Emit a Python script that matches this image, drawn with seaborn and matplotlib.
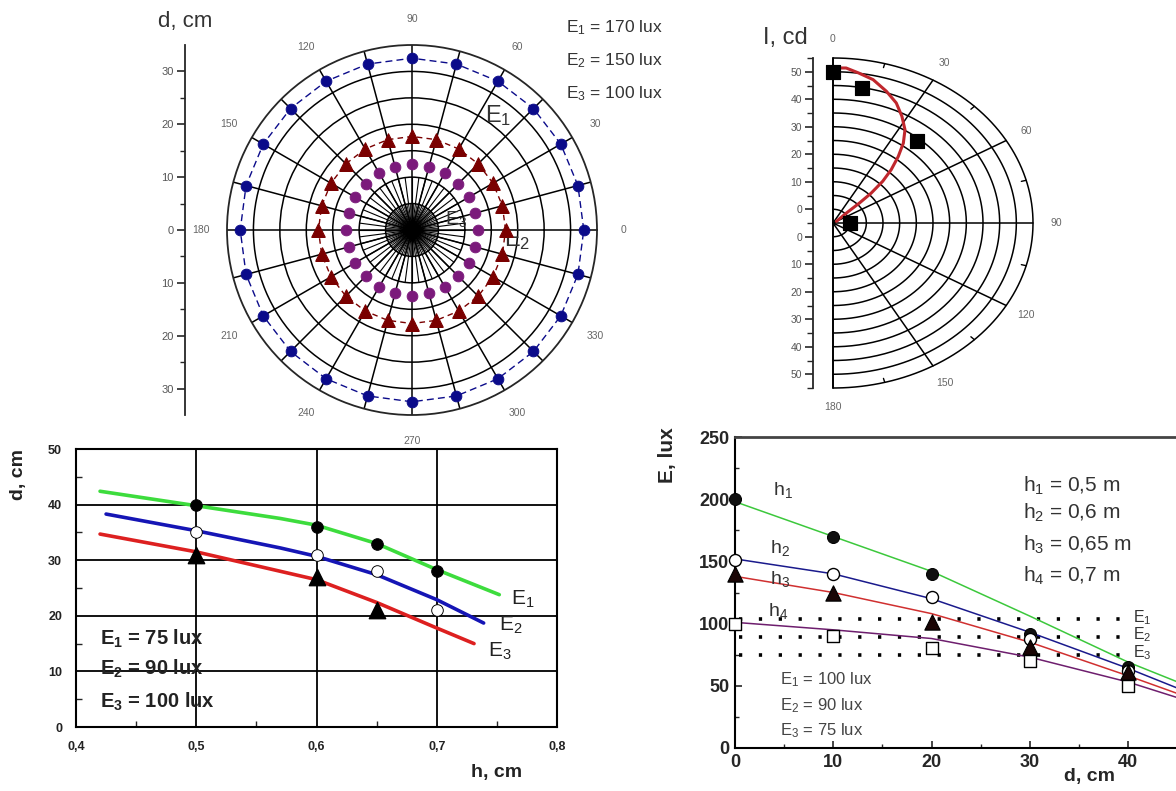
import numpy as np
import matplotlib
matplotlib.use("Agg")
import matplotlib.pyplot as plt
import seaborn as sns

# ── Datos ──────────────────────────────────────────────────────────
# polar superior izquierdo: d (cm) frente al ángulo (grados)
ang_deg = [0, 15, 30, 45, 60, 75, 90, 105, 120, 135, 150, 165,
           180, 195, 210, 225, 240, 255, 270, 285, 300, 315, 330, 345]
d_E1 = [32.5, 32.5, 32.5, 32.5, 32.5, 32.5, 32.5, 32.5, 32.5, 32.5, 32.5, 32.5,
        32.5, 32.5, 32.5, 32.5, 32.5, 32.5, 32.5, 32.5, 32.5, 32.5, 32.5, 32.5]
d_E2 = [17.7, 17.7, 17.7, 17.7, 17.7, 17.7, 17.7, 17.7, 17.7, 17.7, 17.7, 17.7,
        17.7, 17.7, 17.7, 17.7, 17.7, 17.7, 17.7, 17.7, 17.7, 17.7, 17.7, 17.7]
d_E3 = [12.4, 12.4, 12.4, 12.4, 12.4, 12.4, 12.4, 12.4, 12.4, 12.4, 12.4, 12.4,
        12.4, 12.4, 12.4, 12.4, 12.4, 12.4, 12.4, 12.4, 12.4, 12.4, 12.4, 12.4]
polar_ang_labels = [0, 30, 60, 90, 120, 150, 180, 210, 240, 270, 300, 330]
d_axis_ticks = [-30, -20, -10, 0, 10, 20, 30]
legend_top = ["E$_1$ = 170 lux", "E$_2$ = 150 lux", "E$_3$ = 100 lux"]

# semipolar superior derecho: I (cd) frente al ángulo
I_ang = [0, 10, 40, 90]
I_cd = [50, 45, 34, 0]
curve_ang = [0.5, 4, 8, 13, 18.5, 23.5, 28, 32.5, 36, 39, 42, 44.5, 46.5, 47.5, 48, 59]
curve_I = [51.4, 51.5, 50.1, 48.5, 45.5, 42.6, 39.0, 35.2, 30.9, 26.1, 21.1,
           16.3, 10.8, 5.8, 0.4, -3.8]
I_R0 = 5            # el centro del diagrama no es cero
I_rmax = 55
I_ticks = [0, 10, 20, 30, 40, 50]
I_ang_labels = [0, 30, 60, 90, 120, 150, 180]

# inferior izquierdo: d (cm) frente a h
h_line_E1 = [0.42, 0.50, 0.57, 0.60, 0.65, 0.70, 0.752]
d_line_E1 = [42.4, 39.8, 37.5, 36.3, 33.0, 28.3, 23.8]
h_line_E2 = [0.425, 0.50, 0.57, 0.60, 0.65, 0.70, 0.739]
d_line_E2 = [38.3, 35.3, 32.2, 30.7, 27.4, 22.9, 18.7]
h_line_E3 = [0.42, 0.50, 0.57, 0.60, 0.65, 0.70, 0.731]
d_line_E3 = [34.7, 31.5, 28.0, 26.5, 22.4, 17.8, 15.0]
h_pts = [0.5, 0.6, 0.65, 0.7]
d_pts_E1 = [40, 36, 33, 28]
d_pts_E2 = [35, 31, 28, 21]
h_pts_E3 = [0.5, 0.6, 0.65]
d_pts_E3 = [31, 27, 21]
legend_bl = ["E$_{\\mathbf{1}}$ = 75 lux", "E$_{\\mathbf{2}}$ = 90 lux",
             "E$_{\\mathbf{3}}$ = 100 lux"]

# inferior derecho: E (lux) frente a d (cm)
d_pts = [0, 10, 20, 30, 40]
E_h1 = [200, 170, 140, 92, 65]
E_h2 = [151, 140, 121, 88, 62]
E_h3 = [140, 125, 101, 81, 61]
E_h4 = [100, 90, 80, 70, 50]
d_line = [0, 10, 20, 30, 40, 46]
L_h1 = [198, 170, 142, 106, 69, 50]
L_h2 = [152, 140, 120, 93, 64, 45]
L_h3 = [138, 125, 108, 85, 58, 41]
L_h4 = [101, 95, 88, 73, 53, 38]
E_levels = [104, 89, 75]
legend_h = ["h$_1$ = 0,5 m", "h$_2$ = 0,6 m", "h$_3$ = 0,65 m", "h$_4$ = 0,7 m"]
legend_br = ["E$_1$ = 100 lux", "E$_2$ = 90 lux", "E$_3$ = 75 lux"]

# ── Estilo ─────────────────────────────────────────────────────────
sns.set_style("white")
plt.rcParams["font.family"] = ["Liberation Sans", "DejaVu Sans"]
plt.rcParams["mathtext.fontset"] = "custom"
plt.rcParams["mathtext.rm"] = "Liberation Sans"
plt.rcParams["mathtext.it"] = "Liberation Sans:italic"
plt.rcParams["mathtext.bf"] = "Liberation Sans:bold"

W, H = 1176, 791
fig = plt.figure(figsize=(W / 100, H / 100), dpi=100)
fig.patch.set_facecolor("white")


def box(x0, y0, x1, y1):
    # caja en píxeles (origen arriba a la izquierda) -> fracción de figura
    return [x0 / W, 1 - y1 / H, (x1 - x0) / W, (y1 - y0) / H]


GREY = "#555555"
TXT = "#333333"

# ── Polar superior izquierdo ───────────────────────────────────────
ax_p = fig.add_axes(box(227, 45, 597, 415), projection="polar")
ax_p.set_ylim(0, 35)
ax_p.set_xticks(np.deg2rad(np.arange(0, 360, 15)))
ax_p.set_xticklabels([])
ax_p.set_yticks([5, 10, 15, 20, 25, 30])
ax_p.set_yticklabels([])
ax_p.grid(True, color="black", lw=1.1)
ax_p.spines["polar"].set_linewidth(1.3)
for a in np.arange(0, 360, 7.5):
    ax_p.plot([np.deg2rad(a)] * 2, [0, 10], color="black", lw=0.8)
for a in np.arange(3.75, 360, 7.5):
    ax_p.plot([np.deg2rad(a)] * 2, [0, 5], color="black", lw=0.6)

th = np.deg2rad(ang_deg)
th_c = np.append(th, th[0])
ax_p.plot(th_c, d_E1 + d_E1[:1], ls=(0, (5, 3)), color="#0b0b8a", lw=1.0)
ax_p.plot(th_c, d_E2 + d_E2[:1], ls=(0, (4, 3)), color="#7a0000", lw=1.0)
sns.scatterplot(x=th, y=d_E1, ax=ax_p, marker="o", s=60, color="#0b0b8a",
                edgecolor="#0b0b8a", zorder=5, legend=False)
sns.scatterplot(x=th, y=d_E2, ax=ax_p, marker="^", s=95, color="#7a0000",
                edgecolor="#7a0000", zorder=5, legend=False)
sns.scatterplot(x=th, y=d_E3, ax=ax_p, marker="o", s=60, color="#7b1a7b",
                edgecolor="#7b1a7b", zorder=5, legend=False)
ax_p.plot([0], [0], marker="D", ms=11, color="black", zorder=6)
for a in polar_ang_labels:
    ax_p.text(np.deg2rad(a), 40, str(a), ha="center", va="center",
              fontsize=7.5, color="#666666", clip_on=False)
ax_p.text(np.deg2rad(53), 27, "E$_1$", fontsize=17, color=TXT,
          ha="center", va="center")
ax_p.text(np.deg2rad(-5), 20, "E$_2$", fontsize=17, color=TXT,
          ha="center", va="center")
ax_p.text(np.deg2rad(14), 8.5, "E$_3$", fontsize=14, color=TXT,
          ha="center", va="center")

# eje d, cm a la izquierda
ax_d = fig.add_axes(box(185, 45, 186, 415))
ax_d.set_ylim(-35, 35)
ax_d.set_xticks([])
for s in ["top", "right", "bottom"]:
    ax_d.spines[s].set_visible(False)
ax_d.spines["left"].set_linewidth(1.3)
ax_d.set_yticks(d_axis_ticks)
ax_d.set_yticklabels([str(abs(v)) for v in d_axis_ticks])
ax_d.set_yticks([-25, -15, -5, 5, 15, 25], minor=True)
ax_d.tick_params(axis="y", which="major", direction="out", length=6,
                 width=1.2, labelsize=8, labelcolor=GREY, pad=2, left=True)
ax_d.tick_params(axis="y", which="minor", direction="out", length=3.5,
                 width=1.0, left=True)
fig.text(185 / W, 1 - 22 / H, "d, cm", fontsize=16, color=TXT,
         ha="center", va="center")
for i, t in enumerate(legend_top):
    fig.text(566 / W, 1 - (28 + 33 * i) / H, t, fontsize=12.5, color=TXT,
             va="center")

# ── Semipolar superior derecho ─────────────────────────────────────
ax_i = fig.add_axes(box(833, 58, 1033, 388))
ax_i.set_xlim(0, I_rmax + I_R0)
ax_i.set_ylim(-(I_rmax + I_R0), I_rmax + I_R0)
ax_i.axis("off")
arc = np.linspace(0, np.pi, 200)
for r in range(5, I_rmax + I_R0 + 1, 5):
    ax_i.plot(r * np.sin(arc), r * np.cos(arc), color="black", lw=1.1,
              clip_on=False)
R = I_rmax + I_R0
for a in [30, 60, 90, 120, 150]:
    t = np.deg2rad(a)
    ax_i.plot([0, R * np.sin(t)], [0, R * np.cos(t)], color="black",
              lw=1.1, clip_on=False)
for a in [15, 45, 75, 105, 135, 165]:
    t = np.deg2rad(a)
    ax_i.plot([(R - 1.5) * np.sin(t), R * np.sin(t)],
              [(R - 1.5) * np.cos(t), R * np.cos(t)], color="black", lw=1.0,
              clip_on=False)
ax_i.plot([0, 0], [-R, R], color="black", lw=1.4, clip_on=False)
for a in I_ang_labels:
    t = np.deg2rad(a)
    ax_i.text(67 * np.sin(t), 67 * np.cos(t), str(a), ha="center",
              va="center", fontsize=7.5, color="#666666", clip_on=False)

rr = np.array(curve_I) + I_R0
ct = np.deg2rad(curve_ang)
sns.lineplot(x=rr * np.sin(ct), y=rr * np.cos(ct), sort=False, ax=ax_i,
             color="#c0272d", lw=2.2, zorder=4, legend=False)
pr = np.array(I_cd) + I_R0
pt = np.deg2rad(I_ang)
sns.scatterplot(x=pr * np.sin(pt), y=pr * np.cos(pt), ax=ax_i, marker="s",
                s=110, color="black", edgecolor="black", zorder=5,
                legend=False, clip_on=False)

# eje I, cd
ax_iy = fig.add_axes(box(813, 58, 814, 388))
ax_iy.set_ylim(-R, R)
ax_iy.set_xticks([])
for s in ["top", "right", "bottom"]:
    ax_iy.spines[s].set_visible(False)
ax_iy.spines["left"].set_linewidth(1.3)
pos = [v + I_R0 for v in I_ticks] + [-(v + I_R0) for v in I_ticks]
ax_iy.set_yticks(pos)
ax_iy.set_yticklabels([str(v) for v in I_ticks] * 2)
mpos = [v + I_R0 for v in [5, 15, 25, 35, 45, 55]]
ax_iy.set_yticks(mpos + [-p for p in mpos] + [0], minor=True)
ax_iy.tick_params(axis="y", which="major", direction="out", length=6,
                  width=1.2, labelsize=7.5, labelcolor=GREY, pad=2, left=True)
ax_iy.tick_params(axis="y", which="minor", direction="out", length=4,
                  width=1.0, left=True)
fig.text(785 / W, 1 - 38 / H, "I, cd", fontsize=17, color=TXT,
         ha="center", va="center")

# ── Inferior izquierdo ─────────────────────────────────────────────
ax_bl = fig.add_axes(box(76, 449, 557, 727))
ax_bl.set_xlim(0.4, 0.8)
ax_bl.set_ylim(0, 50)
sns.lineplot(x=h_line_E1, y=d_line_E1, ax=ax_bl, color="#3ddc3d", lw=2.6)
sns.lineplot(x=h_line_E2, y=d_line_E2, ax=ax_bl, color="#1515b5", lw=2.6)
sns.lineplot(x=h_line_E3, y=d_line_E3, ax=ax_bl, color="#dd2020", lw=2.6)
sns.scatterplot(x=h_pts, y=d_pts_E1, ax=ax_bl, marker="o", s=70,
                color="black", edgecolor="black", zorder=5, legend=False)
sns.scatterplot(x=h_pts, y=d_pts_E2, ax=ax_bl, marker="o", s=70,
                facecolor="white", edgecolor="black", zorder=5, legend=False)
sns.scatterplot(x=h_pts_E3, y=d_pts_E3, ax=ax_bl, marker="^", s=140,
                color="black", edgecolor="black", zorder=5, legend=False)
ax_bl.set_xticks([0.4, 0.5, 0.6, 0.7, 0.8])
ax_bl.set_xticklabels(["0,4", "0,5", "0,6", "0,7", "0,8"])
ax_bl.set_yticks([0, 10, 20, 30, 40, 50])
ax_bl.set_xticks([0.45, 0.55, 0.65, 0.75], minor=True)
ax_bl.set_yticks([5, 15, 25, 35, 45], minor=True)
ax_bl.grid(True, which="major", color="black", lw=1.3)
ax_bl.tick_params(which="major", length=0, labelsize=9, pad=10,
                  labelcolor="#222222")
ax_bl.tick_params(which="minor", direction="in", length=4, width=1,
                  bottom=True, left=True)
for lab in ax_bl.get_xticklabels() + ax_bl.get_yticklabels():
    lab.set_fontweight("bold")
for s in ax_bl.spines.values():
    s.set_linewidth(1.5)
    s.set_color("black")
ax_bl.set_xlabel("")
ax_bl.set_ylabel("")
ax_bl.text(0.762, 23, "E$_1$", fontsize=15, color="#222222", va="center")
ax_bl.text(0.752, 18.2, "E$_2$", fontsize=15, color="#222222", va="center")
ax_bl.text(0.743, 13.6, "E$_3$", fontsize=15, color="#222222", va="center")
for i, t in enumerate(legend_bl):
    ax_bl.text(0.42, [15.8, 10.4, 4.6][i], t, fontsize=14.5,
               fontweight="bold", color="#222222", va="center")
fig.text(18 / W, 1 - 475 / H, "d, cm", rotation=90, fontsize=14,
         fontweight="bold", color="#222222", ha="center", va="center")
fig.text(497 / W, 1 - 772 / H, "h, cm", fontsize=14, fontweight="bold",
         color="#222222", ha="center", va="center")

# ── Inferior derecho ───────────────────────────────────────────────
ax_br = fig.add_axes(box(735, 437, 735 + 491.5, 748))
ax_br.set_xlim(0, 50)
ax_br.set_ylim(0, 250)
ax_br.hlines(E_levels, 0.4, 39.5, colors="black", linestyles=(0, (0.9, 4.6)),
             lw=2.6)
sns.lineplot(x=d_line, y=L_h1, ax=ax_br, color="#3cc83c", lw=1.1)
sns.lineplot(x=d_line, y=L_h2, ax=ax_br, color="#1a1a8c", lw=1.1)
sns.lineplot(x=d_line, y=L_h3, ax=ax_br, color="#d03030", lw=1.1)
sns.lineplot(x=d_line, y=L_h4, ax=ax_br, color="#6e1e6e", lw=1.1)
sns.scatterplot(x=d_pts, y=E_h1, ax=ax_br, marker="o", s=75, color="#101010",
                edgecolor="black", zorder=5, legend=False, clip_on=False)
sns.scatterplot(x=d_pts, y=E_h2, ax=ax_br, marker="o", s=75,
                facecolor="white", edgecolor="black", linewidth=1.0,
                zorder=5, legend=False, clip_on=False)
sns.scatterplot(x=d_pts, y=E_h3, ax=ax_br, marker="^", s=120, color="#1a0505",
                edgecolor="black", zorder=6, legend=False, clip_on=False)
sns.scatterplot(x=d_pts, y=E_h4, ax=ax_br, marker="s", s=65,
                facecolor="white", edgecolor="black", linewidth=1.0,
                zorder=5, legend=False, clip_on=False)
ax_br.set_xticks([0, 10, 20, 30, 40])
ax_br.set_yticks([0, 50, 100, 150, 200, 250])
ax_br.set_xticks([5, 15, 25, 35, 45], minor=True)
ax_br.set_yticks([25, 75, 125, 175, 225], minor=True)
ax_br.tick_params(which="major", direction="in", length=5, width=1.2,
                  labelsize=13, bottom=True, left=True, pad=4)
ax_br.tick_params(which="minor", direction="in", length=3, width=1,
                  bottom=True, left=True)
for lab in ax_br.get_xticklabels() + ax_br.get_yticklabels():
    lab.set_fontweight("bold")
ax_br.spines["top"].set_linewidth(2.0)
ax_br.spines["top"].set_color("#444444")
ax_br.spines["left"].set_linewidth(1.5)
ax_br.spines["bottom"].set_linewidth(1.5)
for s in ["left", "bottom"]:
    ax_br.spines[s].set_color("black")
ax_br.set_xlabel("")
ax_br.set_ylabel("")
for i, (x, y) in enumerate([(3.9, 207), (3.6, 161), (3.6, 136), (3.4, 110)]):
    ax_br.text(x, y, f"h$_{i + 1}$", fontsize=14, color=TXT, va="center")
for i, t in enumerate(legend_h):
    ax_br.text(29.3, [211, 189, 163, 138][i], t, fontsize=15, color=TXT,
               va="center")
for i, y in enumerate([105, 91, 77]):
    ax_br.text(40.5, y, f"E$_{i + 1}$", fontsize=11.5, color=TXT, va="center")
for i, t in enumerate(legend_br):
    ax_br.text(4.6, [55, 34, 14][i], t, fontsize=12, color="#444444",
               va="center")
fig.text(668 / W, 1 - 455 / H, "E, lux", rotation=90, fontsize=15,
         fontweight="bold", ha="center", va="center")
fig.text(1090 / W, 1 - 776 / H, "d, cm", fontsize=14, fontweight="bold",
         ha="center", va="center")

fig.savefig("out.png", dpi=100, facecolor="white")
